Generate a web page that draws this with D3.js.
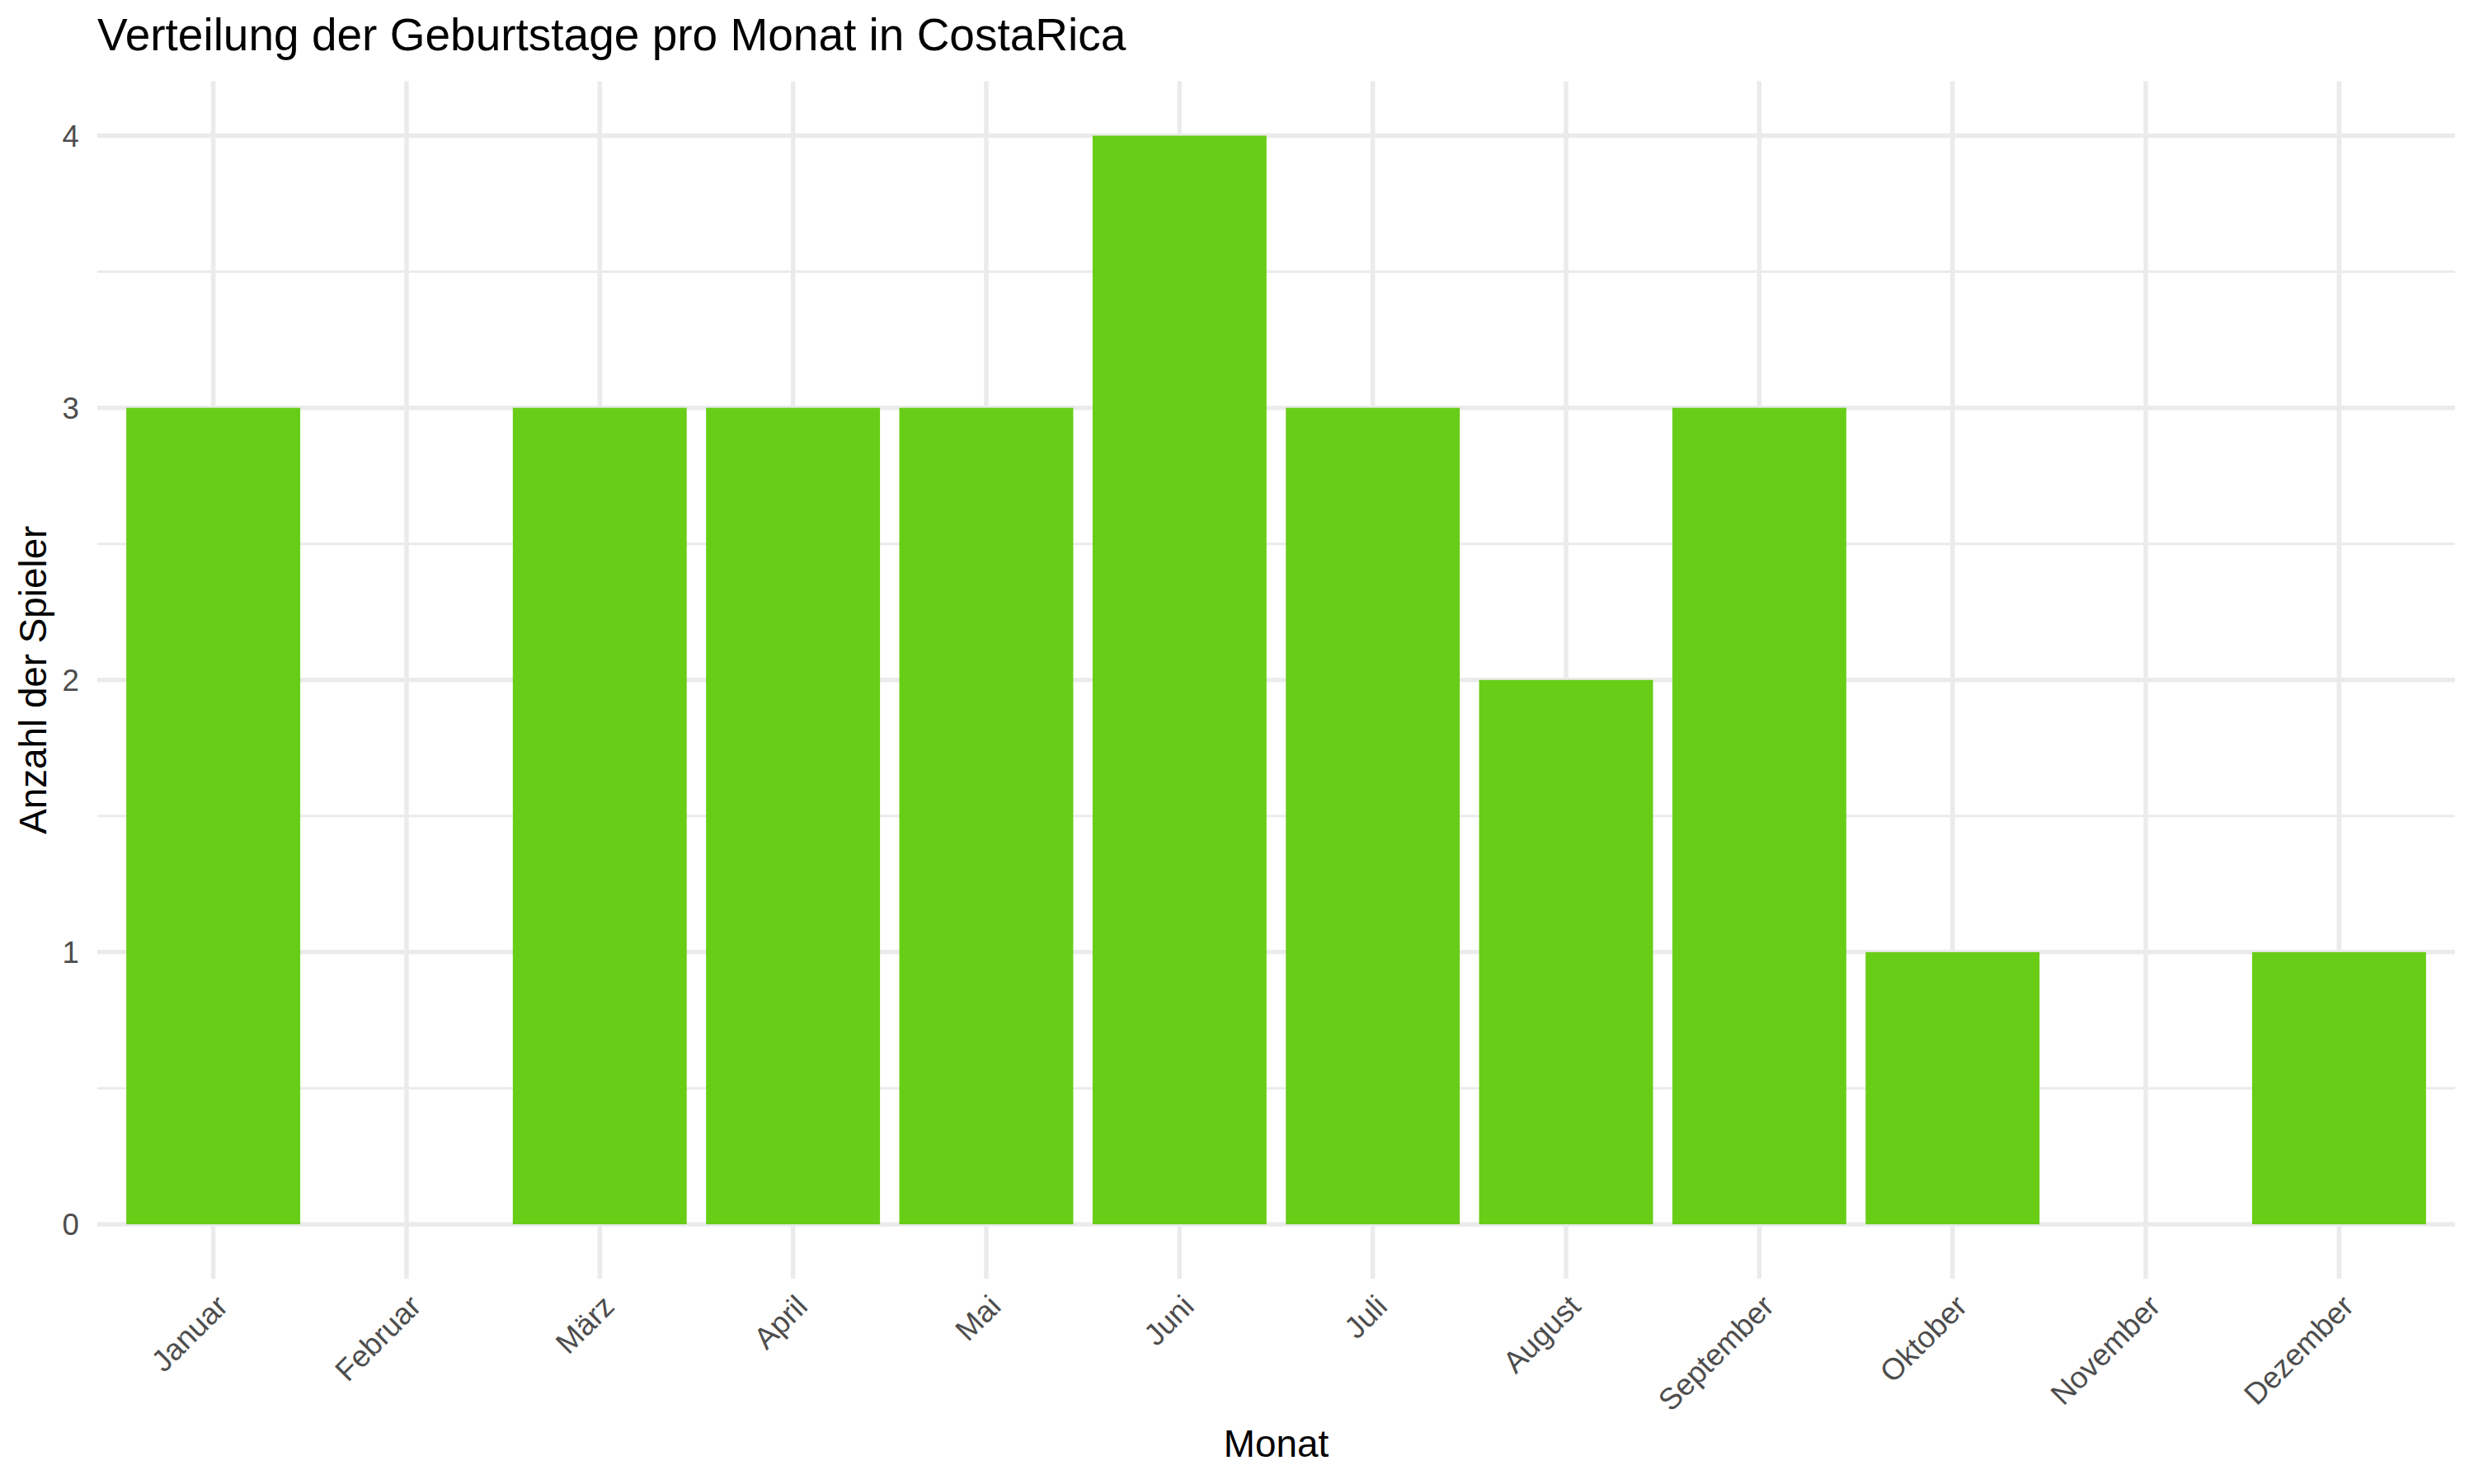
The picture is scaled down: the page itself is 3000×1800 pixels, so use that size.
<!DOCTYPE html>
<html>
<head>
<meta charset="utf-8">
<script src="https://cdn.jsdelivr.net/npm/d3@7"></script>
<style>
  html, body { margin: 0; padding: 0; background: #fff; }
  text { font-family: "Liberation Sans", Arial, Helvetica, sans-serif; }
</style>
</head>
<body>
<svg id="chart" width="3000" height="1800"></svg>
<script>
const months = ["Januar","Februar","März","April","Mai","Juni","Juli","August","September","Oktober","November","Dezember"];
const counts = [3, 0, 3, 3, 3, 4, 3, 2, 3, 1, 0, 1];
const yTicks = [0, 1, 2, 3, 4];
const yMinorTicks = [0.5, 1.5, 2.5, 3.5];
const titleText = "Verteilung der Geburtstage pro Monat in CostaRica";
const xTitle = "Monat";
const yTitle = "Anzahl der Spieler";

const W = 3000, H = 1800;
const panel = { left: 118, right: 2977, top: 98.5, bottom: 1551 };
const svg = d3.select("#chart");
svg.append("rect").attr("width", W).attr("height", H).attr("fill", "#fff");

// discrete x scale with 0.6 unit expansion each side
const n = months.length;
const step = (panel.right - panel.left) / (n - 1 + 1.2);
const xPos = d3.scalePoint().domain(months)
  .range([panel.left + 0.6 * step, panel.right - 0.6 * step]);
const barW = 0.9 * step;

const y = d3.scaleLinear().domain([-0.2, 4.2]).range([panel.bottom, panel.top]);

const g = svg.append("g");
// minor horizontal gridlines
g.selectAll("line.minor").data(yMinorTicks).enter().append("line")
  .attr("x1", panel.left).attr("x2", panel.right)
  .attr("y1", d => y(d)).attr("y2", d => y(d))
  .attr("stroke", "#EBEBEB").attr("stroke-width", 3);
// major horizontal gridlines
g.selectAll("line.majorY").data(yTicks).enter().append("line")
  .attr("x1", panel.left).attr("x2", panel.right)
  .attr("y1", d => y(d)).attr("y2", d => y(d))
  .attr("stroke", "#EBEBEB").attr("stroke-width", 5.5);
// major vertical gridlines
g.selectAll("line.majorX").data(months).enter().append("line")
  .attr("x1", d => xPos(d)).attr("x2", d => xPos(d))
  .attr("y1", panel.top).attr("y2", panel.bottom)
  .attr("stroke", "#EBEBEB").attr("stroke-width", 5.5);

// bars
g.selectAll("rect.bar").data(months.map((m, i) => ({ m, v: counts[i] })).filter(d => d.v > 0))
  .enter().append("rect")
  .attr("x", d => xPos(d.m) - barW / 2)
  .attr("width", barW)
  .attr("y", d => y(d.v))
  .attr("height", d => y(0) - y(d.v))
  .attr("fill", "#68CD17");

// y axis labels
g.selectAll("text.ylab").data(yTicks).enter().append("text")
  .attr("x", 96).attr("y", d => y(d))
  .attr("dy", "0.36em")
  .attr("text-anchor", "end")
  .attr("font-size", 36.7).attr("fill", "#4D4D4D")
  .text(d => d);

// x axis labels rotated 45
g.selectAll("text.xlab").data(months).enter().append("text")
  .attr("transform", d => `translate(${xPos(d) + 1},${panel.bottom + 17}) rotate(-45)`)
  .attr("text-anchor", "end")
  .attr("dy", "0.72em")
  .attr("font-size", 36.7).attr("fill", "#4D4D4D")
  .text(d => d);

// axis titles
svg.append("text")
  .attr("x", (panel.left + panel.right) / 2).attr("y", 1767)
  .attr("text-anchor", "middle")
  .attr("font-size", 45.8).attr("fill", "#000")
  .text(xTitle);
svg.append("text")
  .attr("transform", `translate(56,${(panel.top + panel.bottom) / 2}) rotate(-90)`)
  .attr("text-anchor", "middle")
  .attr("font-size", 45.8).attr("fill", "#000")
  .text(yTitle);

// title
svg.append("text")
  .attr("x", panel.left).attr("y", 61)
  .attr("font-size", 55).attr("fill", "#000")
  .text(titleText);
</script>
</body>
</html>
